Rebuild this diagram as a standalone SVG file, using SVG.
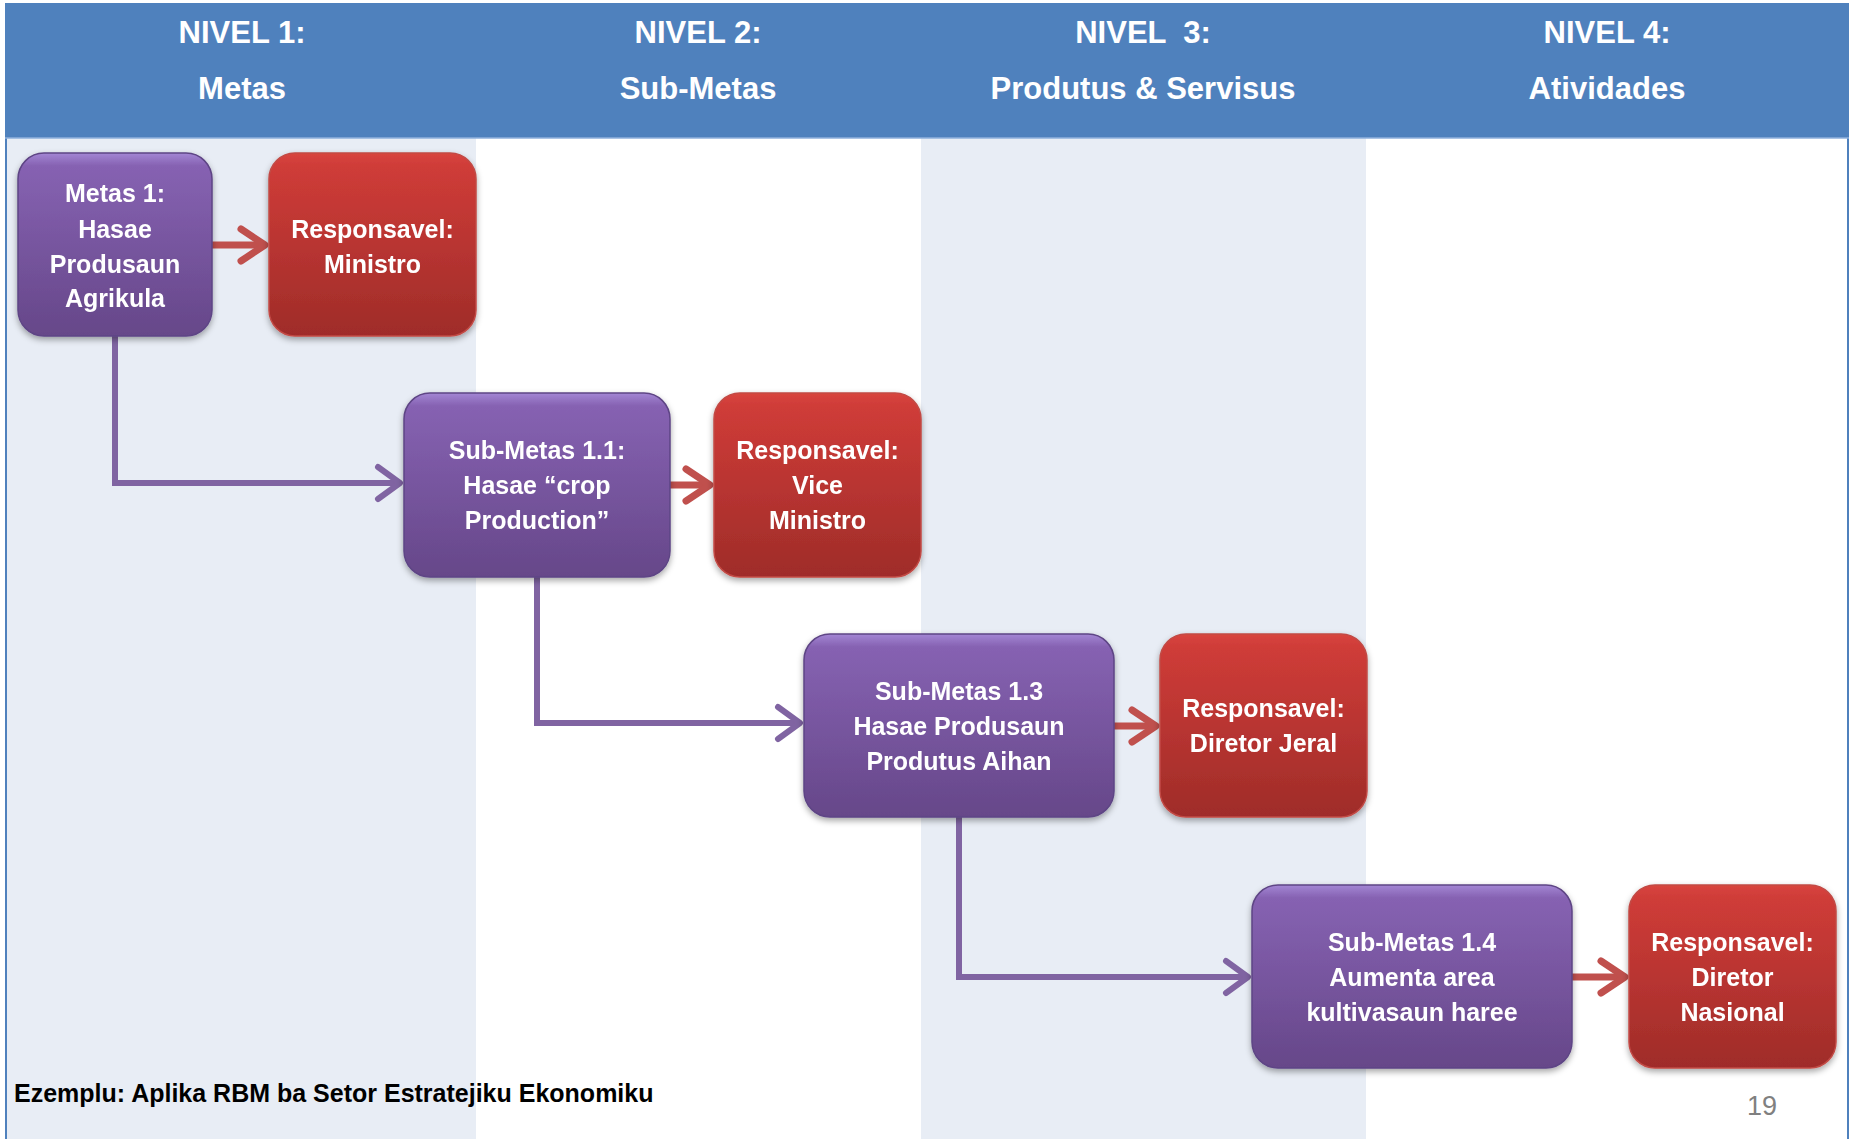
<svg xmlns="http://www.w3.org/2000/svg" width="1851" height="1139" viewBox="0 0 1851 1139">
<defs>
<style>
.hdr{font-family:"Liberation Sans",Arial,sans-serif;font-weight:bold;font-size:31px;fill:#fff;text-anchor:middle;white-space:pre}
.nt{font-family:"Liberation Sans",Arial,sans-serif;font-weight:bold;font-size:25px;fill:#fff;text-anchor:middle}
.pbox{fill:url(#gp);stroke:#5e4585;stroke-width:1.5}
.rbox{fill:url(#gr);stroke:#c24a45;stroke-width:1.5}
.pc{fill:none;stroke:#8064a2;stroke-width:6}
.rc{fill:none;stroke:#c0504d;stroke-width:7}
</style>
<linearGradient id="gp" x1="0" y1="0" x2="0" y2="1">
<stop offset="0" stop-color="#a386d4"/>
<stop offset="0.07" stop-color="#8662b2"/>
<stop offset="1" stop-color="#664789"/>
</linearGradient>
<linearGradient id="gr" x1="0" y1="0" x2="0" y2="1">
<stop offset="0" stop-color="#d8453f"/>
<stop offset="0.07" stop-color="#cf3c38"/>
<stop offset="1" stop-color="#9f2c29"/>
</linearGradient>
<filter id="sh" x="-10%" y="-10%" width="120%" height="130%">
<feDropShadow dx="0" dy="3" stdDeviation="3" flood-color="#000" flood-opacity="0.35"/>
</filter>
<marker id="ap" markerUnits="userSpaceOnUse" viewBox="-30 -22 36 44" markerWidth="36" markerHeight="44" refX="0" refY="0" orient="auto">
<path d="M-22,-16 L0,0 L-22,16" fill="none" stroke="#8064a2" stroke-width="6" stroke-linecap="round" stroke-linejoin="round"/>
</marker>
<marker id="ar" markerUnits="userSpaceOnUse" viewBox="-30 -22 36 44" markerWidth="36" markerHeight="44" refX="0" refY="0" orient="auto">
<path d="M-24,-16 L0,0 L-24,16" fill="none" stroke="#c0504d" stroke-width="7" stroke-linecap="round" stroke-linejoin="round"/>
</marker>
</defs>
<rect x="0" y="0" width="1851" height="1139" fill="#fff"/>
<g id="columns">
<rect x="7" y="138" width="469" height="1001" fill="#e8edf5"/>
<rect x="921" y="138" width="445" height="1001" fill="#e8edf5"/>
<rect x="6" y="4" width="1842" height="1140" fill="none" stroke="#4f81bd" stroke-width="2"/>
</g>
<g id="header">
<rect x="5" y="4" width="1844" height="134" fill="#4f81bd"/>
<line x1="5" y1="138" x2="1849" y2="138" stroke="#8fb0dc" stroke-width="1.5"/>
<text class="hdr" x="242" y="43">NIVEL 1:</text>
<text class="hdr" x="242" y="99">Metas</text>
<text class="hdr" x="698" y="43">NIVEL 2:</text>
<text class="hdr" x="698" y="99">Sub-Metas</text>
<text class="hdr" x="1143" y="43">NIVEL  3:</text>
<text class="hdr" x="1143" y="99">Produtus &amp; Servisus</text>
<text class="hdr" x="1607" y="43">NIVEL 4:</text>
<text class="hdr" x="1607" y="99">Atividades</text>
</g>
<g id="connectors">
<path class="pc" d="M115,336 V483 H400" marker-end="url(#ap)"/>
<path class="pc" d="M537,577 V723 H800" marker-end="url(#ap)"/>
<path class="pc" d="M959,817 V977 H1248" marker-end="url(#ap)"/>
<path class="rc" d="M212,245 H265" marker-end="url(#ar)"/>
<path class="rc" d="M670,485 H710" marker-end="url(#ar)"/>
<path class="rc" d="M1114,726 H1156" marker-end="url(#ar)"/>
<path class="rc" d="M1572,977 H1625" marker-end="url(#ar)"/>
</g>
<g id="n-metas1" filter="url(#sh)">
<rect class="pbox" x="18" y="153" width="194" height="183" rx="26"/>
<text class="nt" x="115" y="202">Metas 1:</text>
<text class="nt" x="115" y="238">Hasae</text>
<text class="nt" x="115" y="273">Produsaun</text>
<text class="nt" x="115" y="307">Agrikula</text>
</g>
<g id="n-ministro" filter="url(#sh)">
<rect class="rbox" x="269" y="153" width="207" height="183" rx="26"/>
<text class="nt" x="372.5" y="238">Responsavel:</text>
<text class="nt" x="372.5" y="273">Ministro</text>
</g>
<g id="n-sub11" filter="url(#sh)">
<rect class="pbox" x="404" y="393" width="266" height="184" rx="26"/>
<text class="nt" x="537" y="459">Sub-Metas 1.1:</text>
<text class="nt" x="537" y="494">Hasae “crop</text>
<text class="nt" x="537" y="529">Production”</text>
</g>
<g id="n-vice" filter="url(#sh)">
<rect class="rbox" x="714" y="393" width="207" height="184" rx="26"/>
<text class="nt" x="817.5" y="459">Responsavel:</text>
<text class="nt" x="817.5" y="494">Vice</text>
<text class="nt" x="817.5" y="529">Ministro</text>
</g>
<g id="n-sub13" filter="url(#sh)">
<rect class="pbox" x="804" y="634" width="310" height="183" rx="26"/>
<text class="nt" x="959" y="700">Sub-Metas 1.3</text>
<text class="nt" x="959" y="735">Hasae Produsaun</text>
<text class="nt" x="959" y="770">Produtus Aihan</text>
</g>
<g id="n-jeral" filter="url(#sh)">
<rect class="rbox" x="1160" y="634" width="207" height="183" rx="26"/>
<text class="nt" x="1263.5" y="717">Responsavel:</text>
<text class="nt" x="1263.5" y="752">Diretor Jeral</text>
</g>
<g id="n-sub14" filter="url(#sh)">
<rect class="pbox" x="1252" y="885" width="320" height="183" rx="26"/>
<text class="nt" x="1412" y="951">Sub-Metas 1.4</text>
<text class="nt" x="1412" y="986">Aumenta area</text>
<text class="nt" x="1412" y="1021">kultivasaun haree</text>
</g>
<g id="n-nasional" filter="url(#sh)">
<rect class="rbox" x="1629" y="885" width="207" height="183" rx="26"/>
<text class="nt" x="1732.5" y="951">Responsavel:</text>
<text class="nt" x="1732.5" y="986">Diretor</text>
<text class="nt" x="1732.5" y="1021">Nasional</text>
</g>
<g id="footer">
<text x="14" y="1102" font-family="'Liberation Sans',Arial,sans-serif" font-weight="bold" font-size="25" fill="#000">Ezemplu: Aplika RBM ba Setor Estratejiku Ekonomiku</text>
<text x="1762" y="1115" font-family="'Liberation Sans',Arial,sans-serif" font-size="27" fill="#808080" text-anchor="middle">19</text>
</g>
</svg>
